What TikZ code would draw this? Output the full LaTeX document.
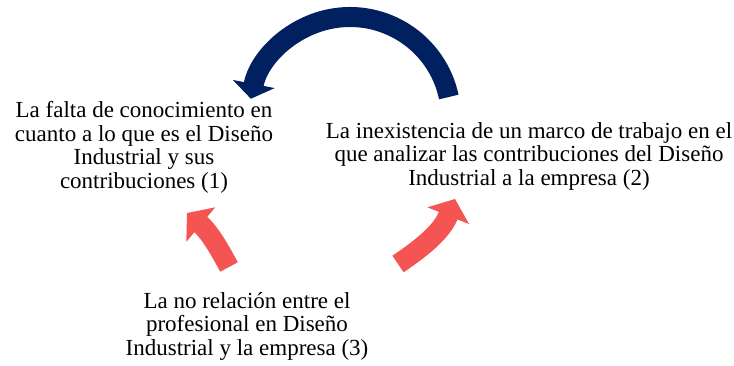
\documentclass[tikz,border=0pt]{standalone}
\usepackage{fontspec}
\setmainfont{Liberation Serif}
\usetikzlibrary{arrows.meta}
\definecolor{azuloscuro}{RGB}{0,32,96}
\definecolor{rojoclaro}{RGB}{244,84,82}

\begin{document}
\begin{tikzpicture}[x=1pt,y=1pt,
	texto/.style={align=center, inner sep=0pt, anchor=base, font=\fontsize{23}{23.5}\selectfont},
	flecharoja/.style={draw=rojoclaro, line width=20pt, -{Triangle[length=18pt,width=44pt]}}]
	\useasboundingbox (0,0) rectangle (734,365);
	% the three causes (anchored at the baseline of their last line)
	\node[texto] (falta) at (144,177) {La falta de conocimiento en\\cuanto a lo que es el Diseño\\Industrial y sus\\contribuciones (1)};
	\node[texto] (marco) at (529,180) {La inexistencia de un marco de trabajo en el\\que analizar las contribuciones del Diseño\\Industrial a la empresa (2)};
	\node[texto] (relacion) at (247,10) {La no relación entre el\\profesional en Diseño\\Industrial y la empresa (3)};
	% big dark arc on top, from (2) back to (1)
	\coordinate (arcoini) at ({350+101*cos(12)},{247+101*sin(12)});
	\draw[draw=azuloscuro, line width=20pt, -{Triangle[length=15pt,width=42pt]}] (arcoini) arc[start angle=12, end angle=169, radius=101];
	% red arrows from (3)
	\coordinate (colaizq) at (229,98);
	\coordinate (puntaizq) at (187,152);
	\draw[flecharoja] (colaizq) to[out=118, in=-40] (puntaizq);
	\coordinate (colader) at (398,101);
	\coordinate (puntader) at (455,166);
	\draw[flecharoja] (colader) to[out=34, in=-112] (puntader);
\end{tikzpicture}
\end{document}
